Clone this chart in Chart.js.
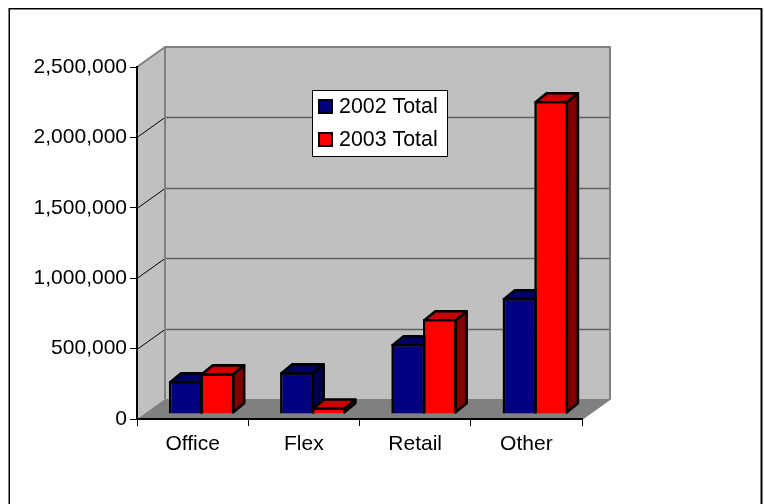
<!DOCTYPE html>
<html>
<head>
<meta charset="utf-8">
<style>html,body{margin:0;padding:0;background:#fff;overflow:hidden}canvas{display:block}</style>
<script src="https://cdn.jsdelivr.net/npm/chart.js@4/dist/chart.umd.min.js"></script>
</head>
<body>
<canvas id="c" width="764" height="504"></canvas>
<script>
const categories = ['Office', 'Flex', 'Retail', 'Other'];
const series2002 = [234000, 298000, 497000, 824000];
const series2003 = [291000, 48000, 675000, 2223000];
const yMax = 2500000;
const yStep = 500000;

const depthWall = { dx: 28, dy: -20 };
const depthBar = { dx: 11, dy: -9 };
const barShift = { dx: 9, dy: -5 };
const edgeWidth = 2.6;
const faceColors = [
  { top: '#000064', side: '#000050' },
  { top: '#c80000', side: '#800000' }
];
const FONT = '"Liberation Sans", Arial, sans-serif';

function poly(ctx, pts, fill, stroke, lw) {
  ctx.beginPath();
  pts.forEach((p, i) => i ? ctx.lineTo(p[0], p[1]) : ctx.moveTo(p[0], p[1]));
  ctx.closePath();
  if (fill) { ctx.fillStyle = fill; ctx.fill(); }
  if (stroke) { ctx.strokeStyle = stroke; ctx.lineWidth = lw; ctx.stroke(); }
}

const scene = {
  id: 'scene',
  beforeDraw(chart) {
    const { ctx, chartArea: a, scales: { y } } = chart;
    const dx = depthWall.dx, dy = depthWall.dy;
    ctx.save();
    ctx.fillStyle = '#fff';
    ctx.fillRect(0, 0, chart.width, chart.height);
    // outer frame (its bottom edge lies past the window)
    ctx.fillStyle = '#808080';
    ctx.fillRect(8, 8, 1, 500);
    ctx.fillRect(760, 8, 1, 500);
    ctx.fillStyle = '#000';
    ctx.fillRect(9, 8, 752, 1.5);
    ctx.fillRect(9, 8, 1, 500);
    ctx.fillRect(761, 8, 1.5, 500);
    // walls and floor
    poly(ctx, [[a.left + dx, a.top + dy], [a.right + dx, a.top + dy], [a.right + dx, a.bottom + dy], [a.left + dx, a.bottom + dy]], '#c0c0c0', null);
    poly(ctx, [[a.left, a.top], [a.left + dx, a.top + dy], [a.left + dx, a.bottom + dy], [a.left, a.bottom]], '#c0c0c0', null);
    poly(ctx, [[a.left, a.bottom], [a.left + dx, a.bottom + dy], [a.right + dx, a.bottom + dy], [a.right, a.bottom]], '#808080', null);
    // gridlines on both walls
    y.ticks.forEach(t => {
      if (t.value === 0 || t.value === yMax) return;
      const py = Math.round(y.getPixelForValue(t.value));
      ctx.strokeStyle = '#000'; ctx.lineWidth = 1;
      ctx.beginPath(); ctx.moveTo(a.left, py + 0.5); ctx.lineTo(a.left + dx, py + dy + 0.5); ctx.stroke();
      ctx.strokeStyle = '#606060'; ctx.lineWidth = 1.5;
      ctx.beginPath(); ctx.moveTo(a.left + dx, py + dy + 0.5); ctx.lineTo(a.right + dx, py + dy + 0.5); ctx.stroke();
    });
    // wall outlines
    ctx.strokeStyle = '#808080'; ctx.lineWidth = 2; ctx.lineJoin = 'round';
    ctx.beginPath();
    ctx.moveTo(a.left, a.top);
    ctx.lineTo(a.left + dx, a.top + dy);
    ctx.lineTo(a.right + dx, a.top + dy);
    ctx.lineTo(a.right + dx, a.bottom + dy);
    ctx.lineTo(a.right, a.bottom);
    ctx.moveTo(a.left + dx, a.top + dy);
    ctx.lineTo(a.left + dx, a.bottom + dy);
    ctx.stroke();
    ctx.restore();
  },
  // datasets are painted by hand below, first series first, so the later
  // bar's faces sit over the earlier bar's side
  beforeDatasetDraw() { return false; },
  afterDatasetsDraw(chart) {
    const ctx = chart.ctx;
    const dx = depthBar.dx, dy = depthBar.dy;
    const inset = edgeWidth / 2;
    ctx.save();
    ctx.translate(barShift.dx, barShift.dy);
    chart.data.datasets.forEach((d, i) => {
      const meta = chart.getDatasetMeta(i);
      meta.controller.draw();
      const colors = faceColors[i];
      meta.data.forEach(b => {
        const l = b.x - b.width / 2 + inset, r = b.x + b.width / 2 - inset, t = b.y + inset, bt = b.base - inset;
        ctx.lineJoin = 'round';
        poly(ctx, [[r, t], [r + dx, t + dy], [r + dx, bt + dy], [r, bt]], colors.side, '#000', edgeWidth);
        poly(ctx, [[l, t], [l + dx, t + dy], [r + dx, t + dy], [r, t]], colors.top, '#000', edgeWidth);
      });
    });
    ctx.restore();
    // legend box
    ctx.save();
    ctx.fillStyle = '#fff';
    ctx.fillRect(312, 90, 136, 67);
    ctx.strokeStyle = '#000'; ctx.lineWidth = 1;
    ctx.strokeRect(312.5, 90.5, 135, 66);
    ctx.font = '21.4px ' + FONT;
    ctx.textBaseline = 'middle'; ctx.textAlign = 'left';
    chart.data.datasets.forEach((d, i) => {
      const y0 = i === 0 ? 99 : 132;
      ctx.fillStyle = d.backgroundColor;
      ctx.fillRect(319, y0 + 1, 13, 13);
      ctx.strokeStyle = '#000'; ctx.lineWidth = 2;
      ctx.strokeRect(319, y0 + 1, 13, 13);
      ctx.fillStyle = '#000';
      ctx.fillText(d.label, 339, y0 + 8);
    });
    ctx.restore();
  }
};

new Chart(document.getElementById('c'), {
  type: 'bar',
  data: {
    labels: categories,
    datasets: [
      { label: '2002 Total', data: series2002, backgroundColor: '#000080', borderColor: '#000', borderWidth: edgeWidth },
      { label: '2003 Total', data: series2003, backgroundColor: '#ff0000', borderColor: '#000', borderWidth: edgeWidth }
    ]
  },
  options: {
    responsive: false,
    animation: false,
    devicePixelRatio: 1,
    layout: { padding: { left: 0, right: 182, top: 67, bottom: 0 } },
    categoryPercentage: 0.57,
    barPercentage: 1.07,
    plugins: { legend: { display: false }, tooltip: { enabled: false }, title: { display: false } },
    scales: {
      x: {
        afterFit(s) { s.height = 85; },
        border: { color: '#000', width: 2 },
        grid: { color: '#000', drawOnChartArea: false, tickLength: 7 },
        ticks: { color: '#000', padding: 6, maxRotation: 0, font: { family: FONT, size: 21 } }
      },
      y: {
        min: 0, max: yMax,
        afterFit(s) { s.width = 137; },
        border: { color: '#000', width: 2 },
        grid: { color: '#000', drawOnChartArea: false, tickLength: 7 },
        ticks: { stepSize: yStep, color: '#000', padding: 3, font: { family: FONT, size: 21 },
                 callback: v => Number(v).toLocaleString('en-US') }
      }
    }
  },
  plugins: [scene]
});
</script>
</body>
</html>
